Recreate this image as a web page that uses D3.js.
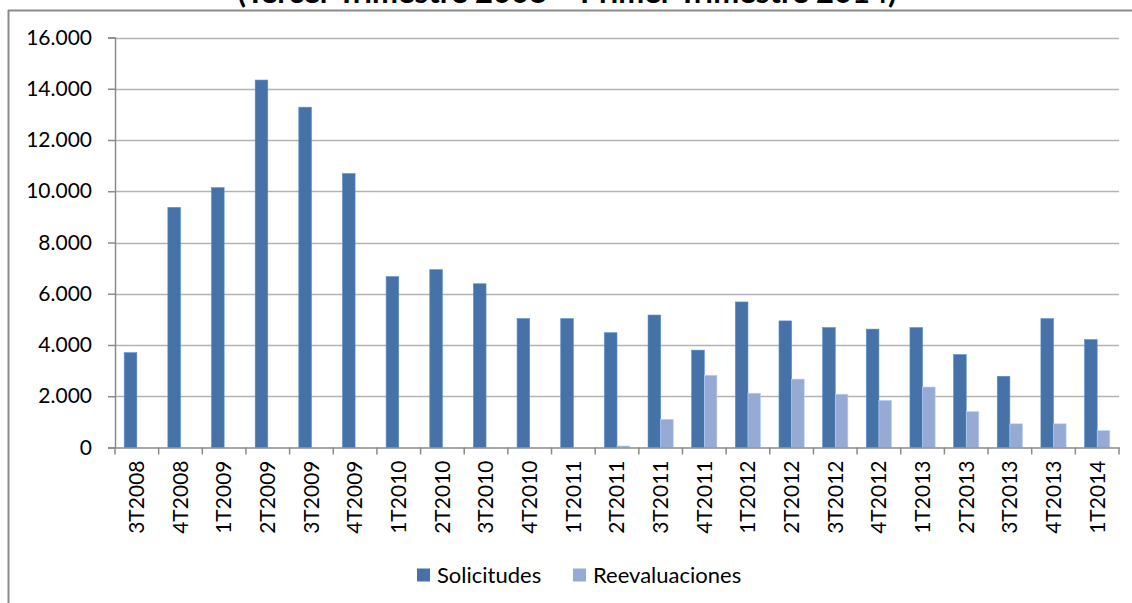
<!DOCTYPE html>
<html>
<head>
<meta charset="utf-8">
<script src="https://cdn.jsdelivr.net/npm/d3@7"></script>
<style>
  html, body { margin: 0; padding: 0; background: #fff; }
  svg { display: block; font-family: Lato, "Open Sans", sans-serif; }
</style>
</head>
<body>
<svg id="chart" width="1132" height="603"></svg>
<script>
// trimestres
let periodos = ["3T2008", "4T2008", "1T2009", "2T2009", "3T2009", "4T2009",
  "1T2010", "2T2010", "3T2010", "4T2010", "1T2011", "2T2011", "3T2011", "4T2011",
  "1T2012", "2T2012", "3T2012", "4T2012", "1T2013", "2T2013", "3T2013", "4T2013", "1T2014"]

let solicitudes = [3700, 9370, 10140, 14340, 13280, 10690, 6670, 6940, 6390, 5030,
  5030, 4480, 5170, 3800, 5680, 4940, 4680, 4620, 4680, 3625, 2780, 5030, 4210]

let reevaluaciones = [0, 0, 0, 0, 0, 0, 0, 0, 0, 0,
  0, 60, 1100, 2820, 2120, 2670, 2080, 1840, 2360, 1400, 925, 925, 660]

let series = ["Solicitudes", "Reevaluaciones"]
let colores = ["#4672a8", "#96aad3"]
let yTicks = [0, 2000, 4000, 6000, 8000, 10000, 12000, 14000, 16000]
let titulo = "(Tercer Trimestre 2008 \u2013 Primer Trimestre 2014)"

let datos = periodos.map((p, i) => ({ periodo: p, valores: [solicitudes[i], reevaluaciones[i]] }))

let svg = d3.select("#chart")

// marco del gráfico
svg.append("line").attr("x1", 8.5).attr("x2", 8.5).attr("y1", 10).attr("y2", 603)
  .attr("stroke", "#8a8a8a").attr("stroke-width", 2)
svg.append("line").attr("x1", 8).attr("x2", 1132).attr("y1", 10.5).attr("y2", 10.5)
  .attr("stroke", "#8a8a8a").attr("stroke-width", 2)

// título (queda cortado arriba, como en el original)
svg.append("text")
  .attr("x", 567).attr("y", 3)
  .attr("text-anchor", "middle")
  .attr("font-weight", "bold")
  .attr("font-size", 31)
  .attr("fill", "#000")
  .text(titulo)

const plotLeft = 115, plotRight = 1119, plotTop = 37.5, plotBottom = 447.5

let xScale = d3.scaleBand().domain(periodos).range([plotLeft, plotRight]).padding(0)
let x1 = d3.scaleBand().domain(series).range([0, xScale.bandwidth()]).paddingInner(0).paddingOuter(0.73)
let yScale = d3.scaleLinear().domain([0, 16000]).range([plotBottom, plotTop])

// rejilla
svg.append("g")
  .selectAll("line")
  .data(yTicks.filter(d => d > 0))
  .enter().append("line")
  .attr("x1", plotLeft).attr("x2", plotRight)
  .attr("y1", d => Math.round(yScale(d)) + 0.5)
  .attr("y2", d => Math.round(yScale(d)) + 0.5)
  .attr("stroke", "#b3b3b3").attr("stroke-width", 1.5)

// barras
let grupos = svg.append("g")
  .selectAll("g")
  .data(datos)
  .enter().append("g")
  .attr("transform", d => "translate(" + xScale(d.periodo) + ",0)")

grupos.selectAll("rect")
  .data(d => d.valores.map((v, i) => ({ serie: series[i], valor: v, i: i })).filter(e => e.valor > 0))
  .enter().append("rect")
  .attr("x", d => x1(d.serie))
  .attr("y", d => yScale(d.valor))
  .attr("width", x1.bandwidth())
  .attr("height", d => plotBottom - yScale(d.valor))
  .attr("fill", d => colores[d.i])
  .attr("stroke", d => d3.color(colores[d.i]).brighter(0.6))
  .attr("stroke-width", 0.6)

// eje Y
let gy = svg.append("g")
  .attr("transform", "translate(" + plotLeft + ",0)")
  .call(d3.axisLeft(yScale).tickValues(yTicks).tickSize(7).tickPadding(16)
    .tickFormat(d => d3.format(",")(d).replace(/,/g, ".")))
gy.select(".domain").attr("stroke", "#8a8a8a").attr("stroke-width", 1.5)
gy.selectAll(".tick line").attr("stroke", "#8a8a8a").attr("stroke-width", 1.5)
gy.selectAll(".tick text").attr("font-size", 21).attr("fill", "#000")
  .attr("font-family", "Lato, sans-serif")

// eje X
let gx = svg.append("g")
  .attr("transform", "translate(0," + plotBottom + ")")
  .call(d3.axisBottom(xScale).tickSize(0).tickPadding(0))
gx.select(".domain").attr("stroke", "#8a8a8a").attr("stroke-width", 1.5)
gx.selectAll(".tick text")
  .attr("font-size", 21).attr("fill", "#000")
  .attr("font-family", "Lato, sans-serif")
  .attr("transform", "rotate(-90)")
  .attr("text-anchor", "end")
  .attr("dy", "0.35em")
  .attr("x", -13).attr("y", 0)

// separadores de categoría
svg.append("g")
  .selectAll("line")
  .data(periodos.concat(["fin"]))
  .enter().append("line")
  .attr("x1", (d, i) => plotLeft + i * xScale.step())
  .attr("x2", (d, i) => plotLeft + i * xScale.step())
  .attr("y1", plotBottom).attr("y2", plotBottom + 7)
  .attr("stroke", "#8a8a8a").attr("stroke-width", 1.5)

// leyenda
let leyenda = svg.append("g").attr("transform", "translate(0,575)")
let posX = [417, 573]
series.forEach((s, i) => {
  leyenda.append("rect")
    .attr("x", posX[i]).attr("y", -6.5)
    .attr("width", 13).attr("height", 13)
    .attr("fill", colores[i])
  leyenda.append("text")
    .attr("x", posX[i] + 20).attr("y", 0)
    .attr("dy", "0.35em")
    .attr("font-size", 22).attr("fill", "#000")
    .text(s)
})
</script>
</body>
</html>
